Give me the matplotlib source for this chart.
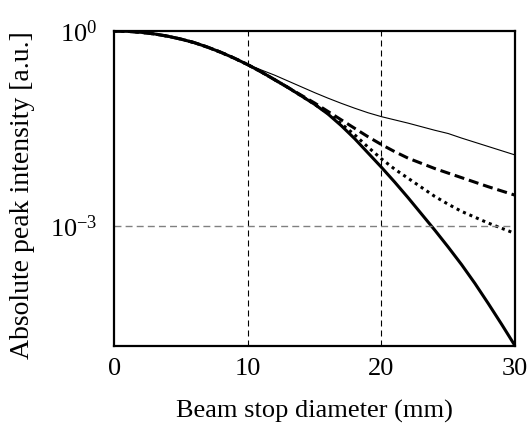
import matplotlib
matplotlib.use('Agg')
import matplotlib.pyplot as plt
import numpy as np

plt.rcParams['font.family'] = 'Liberation Serif'
plt.rcParams['mathtext.fontset'] = 'custom'
plt.rcParams['mathtext.rm'] = 'Liberation Serif'

# beam stop diameter (mm) and log10 of intensity
x_solid = list(range(0, 31))
log_solid = [0, -0.005, -0.02, -0.045, -0.08, -0.125, -0.18, -0.25, -0.33, -0.42,
             -0.52, -0.63, -0.75, -0.87, -1.0, -1.13, -1.28, -1.46, -1.66, -1.88,
             -2.1, -2.33, -2.57, -2.82, -3.07, -3.33, -3.6, -3.89, -4.2, -4.52, -4.85]

x_thin = [0, 1, 2, 3, 4, 5, 6, 7, 8, 9, 10, 11, 12, 13, 14, 15, 16, 17, 18, 19,
          20, 22, 24, 25, 26, 28, 30]
log_thin = [0, -0.005, -0.02, -0.045, -0.08, -0.125, -0.18, -0.25, -0.33, -0.42,
            -0.515, -0.6, -0.68, -0.77, -0.86, -0.95, -1.035, -1.115, -1.19, -1.26,
            -1.32, -1.42, -1.53, -1.58, -1.65, -1.78, -1.91]

x_dash = [0, 1, 2, 3, 4, 5, 6, 7, 8, 9, 10, 11, 12, 13, 14, 15, 16, 17, 18, 19,
          20, 21, 22, 24, 26, 28, 30]
log_dash = [0, -0.005, -0.02, -0.045, -0.08, -0.125, -0.18, -0.25, -0.33, -0.42,
            -0.52, -0.63, -0.75, -0.87, -0.99, -1.11, -1.24, -1.37, -1.5, -1.63,
            -1.75, -1.86, -1.96, -2.12, -2.26, -2.4, -2.53]

x_dot = list(range(0, 31))
log_dot = [0, -0.005, -0.02, -0.045, -0.08, -0.125, -0.18, -0.25, -0.33, -0.42,
           -0.52, -0.63, -0.75, -0.87, -1.0, -1.13, -1.27, -1.43, -1.6, -1.79,
           -1.97, -2.13, -2.27, -2.41, -2.55, -2.67, -2.78, -2.87, -2.96, -3.04, -3.12]

fig = plt.figure(figsize=(5.32, 4.32), dpi=100)
ax = fig.add_axes([0.2149, 0.1998, 0.968 - 0.2149, 0.9282 - 0.1998])

ax.plot(x_thin, 10 ** np.array(log_thin), color='black', lw=0.8)
ax.plot(x_dash, 10 ** np.array(log_dash), color='black', lw=2.2, ls=(0, (3.3, 1.6)))
ax.plot(x_dot, 10 ** np.array(log_dot), color='black', lw=2.2, ls=(0, (1, 1.3)))
ax.plot(x_solid, 10 ** np.array(log_solid), color='black', lw=2.2)

ax.set_yscale('log')
ax.set_xlim(0, 30)
ax.set_ylim(10 ** -4.85, 1)
ax.set_xticks([0, 10, 20, 30])
ax.set_yticks([1, 1e-3])
ax.set_yticklabels([r'$\mathrm{10^{0}}$', r'$\mathrm{10^{-3}}$'])
ax.yaxis.set_minor_locator(matplotlib.ticker.NullLocator())

for xv in [10, 20]:
    ax.axvline(xv, color='black', lw=0.8, ls=(0, (5.4, 3.6)))
ax.axhline(1e-3, color='#808080', lw=1.0, ls=(0, (5, 3)))

ax.tick_params(axis='x', length=0, labelsize=19, pad=9)
ax.tick_params(axis='y', length=0, labelsize=19, pad=12)
for s in ax.spines.values():
    s.set_linewidth(1.6)

ax.set_xlabel('Beam stop diameter (mm)', fontsize=19, va='center')
ax.xaxis.set_label_coords(0.5, -0.2075)
ax.set_ylabel('Absolute peak intensity [a.u.]', fontsize=20, va='center')
ax.yaxis.set_label_coords(-0.23, 0.48)

fig.savefig('out.png', dpi=100)
